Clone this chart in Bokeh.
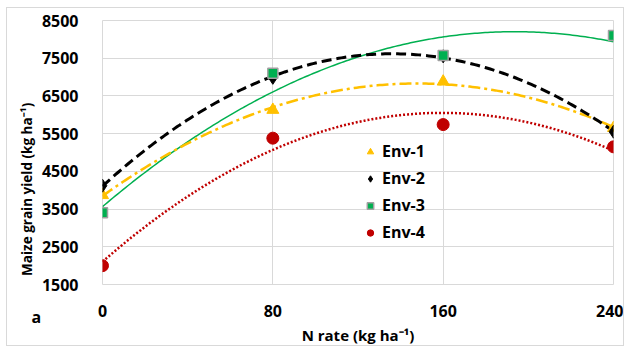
import numpy as np
from bokeh.plotting import figure
from bokeh.models import Range1d, FixedTicker, Legend, LegendItem, Title
from bokeh.embed import file_html
from bokeh.resources import INLINE

# ---- data ----
n_rate = [0, 80, 160, 240]
env1 = [3870, 6130, 6880, 5650]
env2 = [4120, 6980, 7550, 5550]
env3 = [3400, 7100, 7570, 8100]
env4 = [2000, 5380, 5740, 5150]
series_names = ["Env-1", "Env-2", "Env-3", "Env-4"]
y_ticks = [1500, 2500, 3500, 4500, 5500, 6500, 7500, 8500]
x_ticks = [0, 80, 160, 240]

FONT = "Open Sans"

p = figure(width=618, height=339, output_backend="svg", toolbar_location=None,
           x_range=Range1d(0, 240), y_range=Range1d(1500, 8500),
           min_border_left=95, min_border_right=12, min_border_top=12, min_border_bottom=62)
p.styles = {"border": "1px solid #D9D9D9", "margin-left": "6px", "margin-top": "7px"}
p.background_fill_color = "white"
p.border_fill_color = "white"
p.outline_line_color = "#D9D9D9"

for ax in (p.xaxis[0], p.yaxis[0]):
    ax.axis_line_color = None
    ax.major_tick_line_color = None
    ax.minor_tick_line_color = None
    ax.major_label_text_font = FONT
    ax.major_label_text_font_style = "bold"
    ax.major_label_text_font_size = "16px"
    ax.major_label_text_color = "black"
    ax.axis_label_text_font = FONT
    ax.axis_label_text_font_style = "bold"
    ax.axis_label_text_color = "black"

p.xaxis.axis_label_text_font_size = "15px"
p.yaxis.axis_label_text_font_size = "13.5px"
p.xaxis.ticker = FixedTicker(ticks=x_ticks)
p.yaxis.ticker = FixedTicker(ticks=y_ticks)
p.xaxis.major_label_standoff = -48
p.yaxis.major_label_standoff = 18
p.xaxis.axis_label = "N rate (kg ha\u207b\u00b9)"
p.yaxis.axis_label = "Maize grain yield (kg ha\u207b\u00b9)" + "\u00a0" * 21
p.xaxis.axis_label_standoff = 5
p.yaxis.axis_label_standoff = 3

p.grid.grid_line_color = "#D9D9D9"
p.grid.grid_line_width = 1

xs = np.linspace(0, 240, 200)

def trend(y):
    c = np.polyfit(n_rate, y, 2)
    return np.polyval(c, xs)

# trendlines
p.line(xs, trend(env4), line_color="#C00000", line_width=2.5, line_dash="2 2")
p.line(xs, trend(env3), line_color="#00B050", line_width=1.5)
p.line(xs, trend(env1), line_color="#FFC000", line_width=2.5, line_dash="12 4 3 4")
p.line(xs, trend(env2), line_color="black", line_width=3, line_dash="10 5")

# markers
r1 = p.scatter(n_rate, env1, marker="triangle", size=12, fill_color="#FFC000", line_color="#FFC000")
r2 = p.scatter(n_rate, env2, marker="diamond", size=13, fill_color="black", line_color="black")
r3 = p.scatter(n_rate, env3, marker="square", size=10, fill_color="#00B050", line_color="#A0A0A0", line_width=1.5)
r4 = p.scatter(n_rate, env4, marker="circle", size=12, fill_color="#C00000", line_color="#C00000")

legend = Legend(items=[LegendItem(label=series_names[0], renderers=[r1]),
                       LegendItem(label=series_names[1], renderers=[r2]),
                       LegendItem(label=series_names[2], renderers=[r3]),
                       LegendItem(label=series_names[3], renderers=[r4])],
                location=(260, 41), padding=0, margin=0, spacing=5,
                glyph_width=16, glyph_height=21, label_height=21, label_standoff=4,
                label_text_font=FONT, label_text_font_style="bold",
                label_text_font_size="16px", label_text_color="black",
                background_fill_alpha=0, border_line_color=None)
p.add_layout(legend, "center")

panel_label = Title(text="a", align="left", offset=-71, vertical_align="bottom", standoff=38,
                    text_font=FONT, text_font_size="16px", text_font_style="bold",
                    text_color="black")
p.below = [panel_label] + list(p.below)

open("out.html", "w").write(file_html(p, INLINE))
